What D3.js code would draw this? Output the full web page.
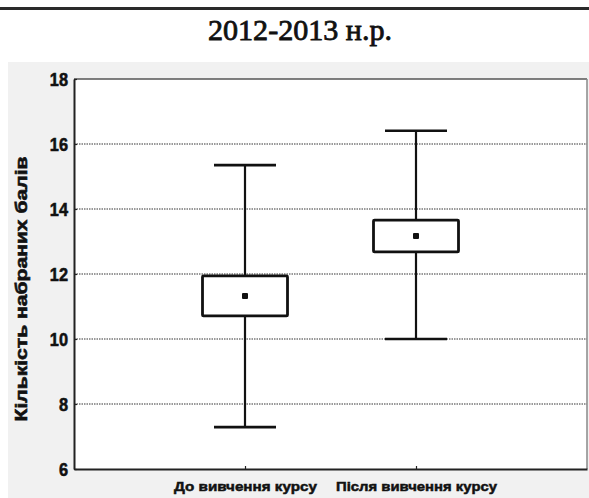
<!DOCTYPE html>
<html>
<head>
<meta charset="utf-8">
<script src="https://cdn.jsdelivr.net/npm/d3@7"></script>
<style>
  html, body { margin: 0; padding: 0; background: #fff; }
  svg { display: block; }
</style>
</head>
<body>
<script>
// Score distribution before / after the course: mean, ±SE box, ±SD whiskers
const title = "2012-2013 н.р.";
const yLabel = "Кількість набраних балів";
const categories = ["До вивчення курсу", "Після вивчення курсу"];
const means = [11.32, 13.17];
const boxLow = [10.71, 12.68];
const boxHigh = [11.94, 13.66];
const whiskerLow = [7.29, 10.0];
const whiskerHigh = [15.35, 16.41];
const yTicks = [6, 8, 10, 12, 14, 16, 18];
const xLabelWidths = [143, 161];

const W = 589, H = 498;
const plot = { left: 74, right: 587, top: 79, bottom: 469 };

const svg = d3.select("body").append("svg")
  .attr("width", W).attr("height", H);

// heading rule and title
svg.append("line")
  .attr("x1", 0).attr("x2", W).attr("y1", 8.5).attr("y2", 8.5)
  .attr("stroke", "#2a2a2a").attr("stroke-width", 3);

svg.append("text")
  .attr("x", 300).attr("y", 40)
  .attr("text-anchor", "middle")
  .attr("font-family", "'Liberation Serif', 'Times New Roman', serif")
  .attr("font-size", 29)
  .attr("fill", "#111")
  .attr("stroke", "#111").attr("stroke-width", 0.8)
  .attr("textLength", 184).attr("lengthAdjust", "spacingAndGlyphs")
  .text(title);

// grey chart panel
svg.append("rect")
  .attr("x", 8).attr("y", 62).attr("width", W - 8).attr("height", H - 62)
  .attr("fill", "#f1f1f1");

const y = d3.scaleLinear().domain([6, 18]).range([plot.bottom, plot.top]);
const x = d3.scalePoint().domain(categories).range([plot.left, plot.right]).padding(1);

// plot area
svg.append("rect")
  .attr("x", plot.left).attr("y", plot.top)
  .attr("width", plot.right - plot.left).attr("height", plot.bottom - plot.top)
  .attr("fill", "#fff");

// dotted horizontal grid
svg.append("g").selectAll("line")
  .data(yTicks.filter(t => t > 6 && t < 18))
  .join("line")
  .attr("x1", plot.left).attr("x2", plot.right)
  .attr("y1", d => y(d)).attr("y2", d => y(d))
  .attr("stroke", "#999").attr("stroke-width", 2)
  .attr("stroke-dasharray", "1.5,1");

// frame: top and right lighter, left and bottom darker
svg.append("line")
  .attr("x1", plot.left).attr("x2", plot.right).attr("y1", plot.top).attr("y2", plot.top)
  .attr("stroke", "#555").attr("stroke-width", 1.5);
svg.append("line")
  .attr("x1", plot.right).attr("x2", plot.right).attr("y1", plot.top).attr("y2", plot.bottom)
  .attr("stroke", "#888").attr("stroke-width", 1.5);

// y axis
const yAxis = svg.append("g")
  .attr("transform", `translate(${plot.left},0)`)
  .call(d3.axisLeft(y).tickValues(yTicks).tickSize(-3).tickPadding(8).tickSizeOuter(0));
yAxis.select(".domain").attr("stroke", "#222").attr("stroke-width", 2);
yAxis.selectAll(".tick line").attr("stroke", "#222").attr("stroke-width", 1.2);
yAxis.selectAll(".tick text")
  .attr("font-family", "'Liberation Sans', Arial, sans-serif")
  .attr("font-weight", "bold")
  .attr("font-size", 19)
  .attr("fill", "#111")
  .attr("stroke", "#111").attr("stroke-width", 0.6)
  .attr("transform", "scale(0.86,1)")
  .attr("x", -7);

// x axis
const xAxis = svg.append("g")
  .attr("transform", `translate(0,${plot.bottom})`)
  .call(d3.axisBottom(x).tickSize(-3).tickPadding(12).tickSizeOuter(0));
xAxis.select(".domain").attr("stroke", "#222").attr("stroke-width", 2);
xAxis.selectAll(".tick line").attr("stroke", "#222").attr("stroke-width", 1.2);
xAxis.selectAll(".tick text")
  .attr("font-family", "'Liberation Sans', Arial, sans-serif")
  .attr("font-weight", "bold")
  .attr("font-size", 13)
  .attr("fill", "#111")
  .attr("stroke", "#111").attr("stroke-width", 0.5)
  .attr("y", 22).attr("dy", 0)
  .attr("textLength", (d, i) => xLabelWidths[i])
  .attr("lengthAdjust", "spacingAndGlyphs");

// y axis title
svg.append("text")
  .attr("transform", `translate(27,289) rotate(-90)`)
  .attr("text-anchor", "middle")
  .attr("font-family", "'Liberation Sans', Arial, sans-serif")
  .attr("font-weight", "bold")
  .attr("font-size", 17)
  .attr("fill", "#111")
  .attr("stroke", "#111").attr("stroke-width", 0.6)
  .attr("textLength", 265).attr("lengthAdjust", "spacingAndGlyphs")
  .text(yLabel);

// box plots
const boxW = 85, capW = 62, dot = 6;
const groups = svg.append("g").selectAll("g")
  .data(categories.map((c, i) => ({ c, i })))
  .join("g")
  .attr("transform", d => `translate(${x(d.c)},0)`);

groups.append("line")
  .attr("x1", 0).attr("x2", 0)
  .attr("y1", d => y(whiskerHigh[d.i])).attr("y2", d => y(whiskerLow[d.i]))
  .attr("stroke", "#111").attr("stroke-width", 2.2);
groups.append("line")
  .attr("x1", -capW / 2).attr("x2", capW / 2)
  .attr("y1", d => y(whiskerHigh[d.i])).attr("y2", d => y(whiskerHigh[d.i]))
  .attr("stroke", "#111").attr("stroke-width", 2.6);
groups.append("line")
  .attr("x1", -capW / 2).attr("x2", capW / 2)
  .attr("y1", d => y(whiskerLow[d.i])).attr("y2", d => y(whiskerLow[d.i]))
  .attr("stroke", "#111").attr("stroke-width", 2.6);
groups.append("rect")
  .attr("x", -boxW / 2).attr("width", boxW)
  .attr("y", d => y(boxHigh[d.i]))
  .attr("height", d => y(boxLow[d.i]) - y(boxHigh[d.i]))
  .attr("fill", "#fff").attr("stroke", "#111").attr("stroke-width", 2.8)
  .attr("rx", 1);
groups.append("rect")
  .attr("x", -dot / 2).attr("width", dot)
  .attr("y", d => y(means[d.i]) - dot / 2).attr("height", dot)
  .attr("fill", "#111").attr("rx", 1);
</script>
</body>
</html>
